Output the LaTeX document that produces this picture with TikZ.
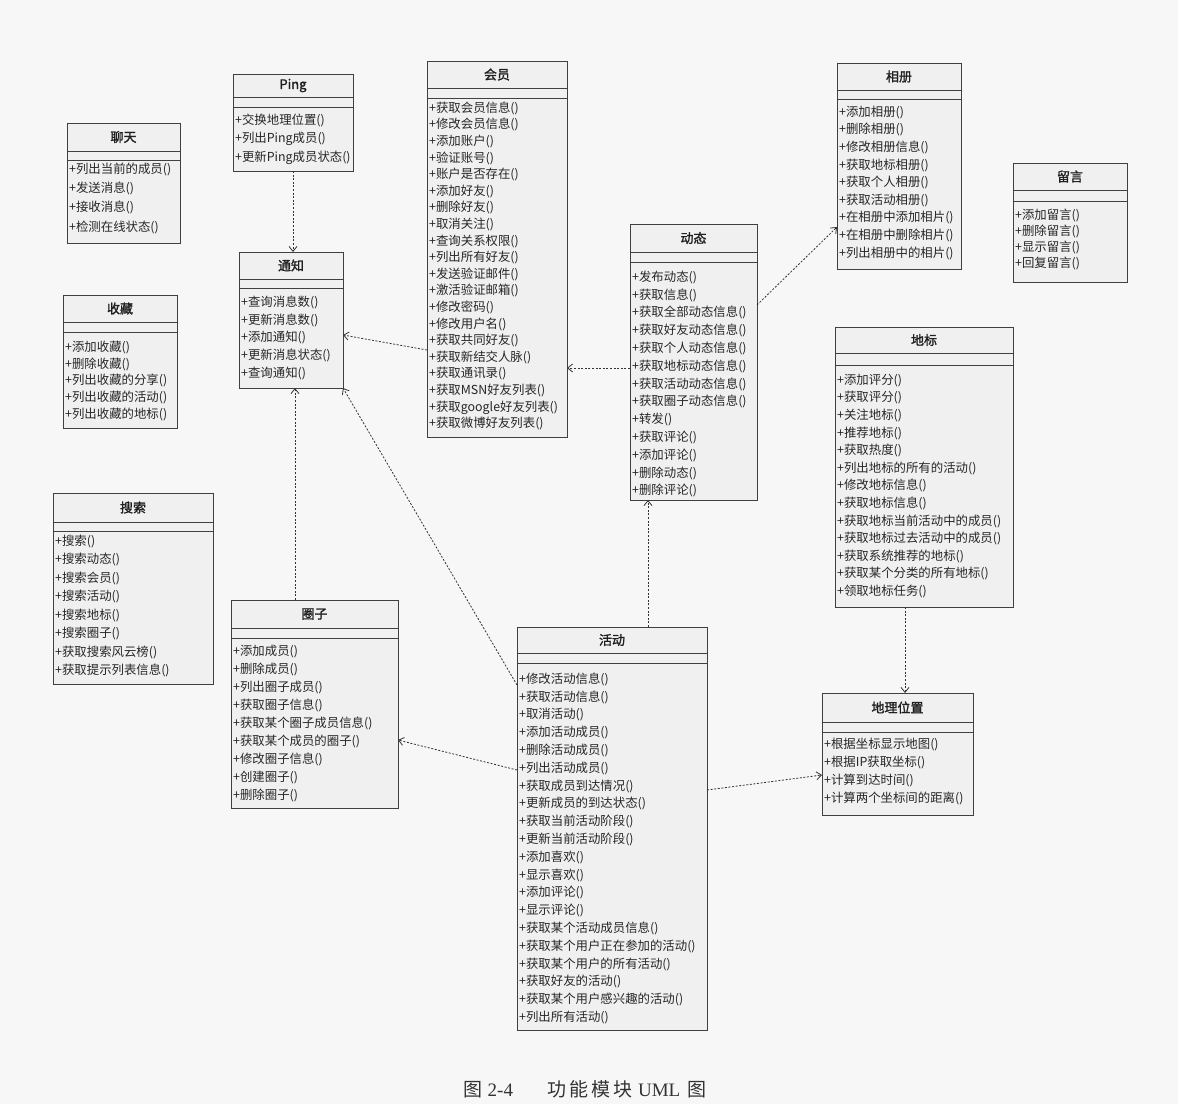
\documentclass[tikz,border=0pt]{standalone}
\usepackage{fontspec}
\setmainfont{Noto Sans CJK SC}[AutoFakeBold=1.5]
\newfontfamily\capserif{Liberation Serif}
\usetikzlibrary{arrows.meta,calc}
\tikzset{
  classbox/.style={draw=gray!50!black, fill=black!6, line width=0.9pt, inner sep=0pt, outer sep=0pt, anchor=north west},
  classtitle/.style={font=\fontsize{13}{15}\selectfont\bfseries, text=black!88, inner sep=0pt},
  meth/.style={font=\fontsize{12.4}{14}\selectfont, text=black!85, inner sep=0pt, anchor=base west},
  sepline/.style={draw=gray!50!black, line width=0.9pt},
  dep/.style={draw=gray!40!black, line width=0.8pt, dash pattern=on 2pt off 1.6pt, -{Straight Barb[length=5pt,width=8pt]}},
}
\newcommand\setlines[2]{\def\mfirst{#1}\def\mstep{#2}}
\newcommand\umlclass[9]{%
  \node[classbox, minimum width={(#4-#2)*1pt}, minimum height={(#5-#3)*1pt}] (#1) at (#2,#3) {};
  \node[classtitle] (#1-t) at ({(#2+#4)/2},{(#3+#6)/2}) {#8};
  \draw[sepline] (#2,#6) -- (#4,#6) (#2,#7) -- (#4,#7);
  \foreach \m [count=\i] in {#9} {\node[meth] (#1-m\i) at ({#2+2},{\mfirst+(\i-1)*\mstep+4.3}) {+\m()};}
}
\begin{document}
\begin{tikzpicture}[x=1pt,y=-1pt]
\useasboundingbox (0,0) rectangle (1178,1104);
\fill[black!3] (0,0) rectangle (1178,1104);

\setlines{169}{19.3}
\umlclass{liaotian}{67}{123}{180}{243}{151}{160}{聊天}{列出当前的成员,发送消息,接收消息,检测在线状态}

\setlines{120}{18.5}
\umlclass{ping}{233}{74}{353}{171}{97}{107}{Ping}{交换地理位置,列出Ping成员,更新Ping成员状态}

\setlines{108}{16.6}
\umlclass{huiyuan}{427}{61}{567}{437}{88}{98}{会员}{获取会员信息,修改会员信息,添加账户,验证账号,账户是否存在,添加好友,删除好友,取消关注,查询关系权限,列出所有好友,发送验证邮件,激活验证邮箱,修改密码,修改用户名,获取共同好友,获取新结交人脉,获取通讯录,获取MSN好友列表,获取google好友列表,获取微博好友列表}

\setlines{277}{17.8}
\umlclass{dongtai}{630}{224}{757}{500}{252}{262}{动态}{发布动态,获取信息,获取全部动态信息,获取好友动态信息,获取个人动态信息,获取地标动态信息,获取活动动态信息,获取圈子动态信息,转发,获取评论,添加评论,删除动态,删除评论}

\setlines{112}{17.6}
\umlclass{xiangce}{837}{63}{961}{269}{90}{99}{相册}{添加相册,删除相册,修改相册信息,获取地标相册,获取个人相册,获取活动相册,在相册中添加相片,在相册中删除相片,列出相册中的相片}

\setlines{215}{16}
\umlclass{liuyan}{1013}{163}{1127}{282}{190}{201}{留言}{添加留言,删除留言,显示留言,回复留言}

\setlines{380}{17.6}
\umlclass{dibiao}{835}{327}{1013}{607}{353}{365}{地标}{添加评分,获取评分,关注地标,推荐地标,获取热度,列出地标的所有的活动,修改地标信息,获取地标信息,获取地标当前活动中的成员,获取地标过去活动中的成员,获取系统推荐的地标,获取某个分类的所有地标,领取地标任务}

\setlines{302}{17.8}
\umlclass{tongzhi}{239}{252}{343}{388}{279}{288}{通知}{查询消息数,更新消息数,添加通知,更新消息状态,查询通知}

\setlines{347}{16.8}
\umlclass{shoucang}{63}{295}{177}{428}{322}{332}{收藏}{添加收藏,删除收藏,列出收藏的分享,列出收藏的活动,列出收藏的地标}

\setlines{541}{18.5}
\umlclass{sousuo}{53}{493}{213}{684}{522}{531}{搜索}{搜索,搜索动态,搜索会员,搜索活动,搜索地标,搜索圈子,获取搜索风云榜,获取提示列表信息}

\setlines{651}{18}
\umlclass{quanzi}{231}{600}{398}{808}{628}{638}{圈子}{添加成员,删除成员,列出圈子成员,获取圈子信息,获取某个圈子成员信息,获取某个成员的圈子,修改圈子信息,创建圈子,删除圈子}

\setlines{679}{17.8}
\umlclass{huodong}{517}{627}{707}{1030}{653}{663}{活动}{修改活动信息,获取活动信息,取消活动,添加活动成员,删除活动成员,列出活动成员,获取成员到达情况,更新成员的到达状态,获取当前活动阶段,更新当前活动阶段,添加喜欢,显示喜欢,添加评论,显示评论,获取某个活动成员信息,获取某个用户正在参加的活动,获取某个用户的所有活动,获取好友的活动,获取某个用户感兴趣的活动,列出所有活动}

\setlines{744}{18}
\umlclass{dili}{822}{693}{973}{815}{722}{732}{地理位置}{根据坐标显示地图,根据IP获取坐标,计算到达时间,计算两个坐标间的距离}

% connectors
\draw[dep] (ping.south -| 293,0) -- (tongzhi.north -| 293,0);
\draw[dep] (huiyuan.west |- 0,350) -- (tongzhi.east |- 0,335);
\draw[dep] (dongtai.west |- 0,368) -- (huiyuan.east |- 0,368);
\draw[dep] (dongtai.east |- 0,305) -- (xiangce.west |- 0,227);
\draw[dep] (huodong.north -| 648,0) -- (dongtai.south -| 648,0);
\draw[dep] (huodong.west |- 0,685) -- (tongzhi.south east);
\draw[dep] (quanzi.north -| 295,0) -- (tongzhi.south -| 295,0);
\draw[dep] (huodong.west |- 0,770) -- (quanzi.east |- 0,740);
\draw[dep] (huodong.east |- 0,790) -- (dili.west |- 0,775);
\draw[dep] (dibiao.south -| 905,0) -- (dili.north -| 905,0);

\node[font=\fontsize{19}{21}\selectfont, text=black!80, inner sep=0pt] (caption) at (585,1089) {图\hspace{5pt}{\capserif 2-4}\hspace{34pt}功\hspace{3pt}能\hspace{3pt}模\hspace{3pt}块\hspace{6pt}{\capserif UML}\hspace{7pt}图};
\end{tikzpicture}
\end{document}
